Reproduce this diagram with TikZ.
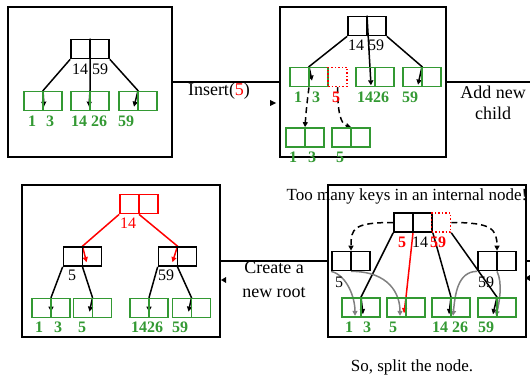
\documentclass[tikz,border=0pt]{standalone}
\usepackage{fontspec}
\setmainfont{Liberation Serif}
\usetikzlibrary{arrows.meta,calc,backgrounds}
\definecolor{kg}{RGB}{51,153,51}
\definecolor{gy}{RGB}{128,128,128}
\newcommand\twobox[4]{\node[cellpair,#4] (#1) at (#2,#3) {};\draw[cellline,#4] (#1.north) -- (#1.south);}
\begin{document}
\begin{tikzpicture}[x=1pt,y=-1pt,
  panel/.style={draw, line width=1.7pt, inner sep=0},
  cellpair/.style={draw, line width=1.7pt, minimum width=38pt, minimum height=19pt, inner sep=0},
  cellline/.style={line width=1.7pt},
  gbox/.style={draw=kg},
  bbox/.style={draw=black},
  rbox/.style={draw=red},
  dotcell/.style={draw=red, dotted, line width=1.5pt, minimum width=19pt, minimum height=19pt, inner sep=0},
  ptr/.style={line width=1.5pt, -{Triangle[length=5pt,width=5pt]}},
  rptr/.style={ptr, draw=red},
  gptr/.style={line width=1.5pt, draw=gy, -{Triangle[length=5pt,width=5pt]}},
  dptr/.style={ptr, dash pattern=on 6pt off 4pt},
  conn/.style={line width=1.5pt},
  key/.style={inner sep=0, font=\fontsize{16}{16}\selectfont},
  gkey/.style={inner sep=0, text=kg, font=\fontsize{16}{16}\selectfont\bfseries},
  rkey/.style={inner sep=0, text=red, font=\fontsize{16}{16}\selectfont\bfseries},
  lab/.style={inner sep=0, align=center, font=\fontsize{18}{21}\selectfont},
  note/.style={inner sep=0, font=\fontsize{17}{20}\selectfont},
]
\useasboundingbox (0,0) rectangle (530,377);

% ---------- panels ----------
\node[panel, minimum width=164pt, minimum height=150pt] (p1) at (90,82) {};
\node[panel, minimum width=166pt, minimum height=150pt] (p2) at (363,82) {};
\node[panel, minimum width=198pt, minimum height=152pt] (p3) at (121,261) {};
\node[panel, minimum width=198pt, minimum height=152pt] (p4) at (427,261) {};

% ---------- panel 1 ----------
\twobox{tlr}{90}{49}{bbox}
\twobox{tl1}{43}{101}{gbox}
\twobox{tl2}{90}{101}{gbox}
\twobox{tl3}{138}{101}{gbox}
\node[key] (k11) at (90,69) {14 59};
\node[gkey] (k12) at (32,121) {1};
\node[gkey] (k13) at (50,121) {3};
\node[gkey] (k14) at (89,121) {14 26};
\node[gkey] (k15) at (126,121) {59};

% ---------- panel 2 ----------
\twobox{trr}{367}{26}{bbox}
\twobox{trA}{309}{77}{gbox}
\node[dotcell] (trX) at (337.5,77) {};
\twobox{trB}{375}{77}{gbox}
\twobox{trC}{422}{77}{gbox}
\twobox{trD}{305}{137.5}{gbox}
\twobox{trE}{351}{137.5}{gbox}
\node[key] (k21) at (366,45) {14 59};
\node[gkey] (k22) at (298,97) {1};
\node[gkey] (k23) at (316,97) {3};
\node[rkey] (k24) at (336,97) {5};
\node[gkey] (k25) at (373,97) {1426};
\node[gkey] (k26) at (410,97) {59};
\node[gkey] (k27) at (293,157) {1};
\node[gkey] (k28) at (312,157) {3};
\node[gkey] (k29) at (340,157) {5};

% ---------- panel 4 (bottom right) ----------
\twobox{brr}{413}{222.5}{bbox}
\node[dotcell] (brX) at (441,222.5) {};
\twobox{brL}{351}{261}{bbox}
\twobox{brR}{497}{261}{bbox}
\twobox{br1}{361}{307.5}{gbox}
\twobox{br2}{406}{307.5}{gbox}
\twobox{br3}{451}{307.5}{gbox}
\twobox{br4}{497}{307.5}{gbox}
\node[note] (t1) at (407,196) {Too many keys in an internal node!};
\node[rkey] (k41) at (402,242) {5};
\node[key] (k42) at (420,242) {14};
\node[rkey] (k43) at (438,242) {59};
\node[key] (k44) at (339,282) {5};
\node[key] (k45) at (486,282) {59};
\node[gkey] (k46) at (349,327) {1};
\node[gkey] (k47) at (367,327) {3};
\node[gkey] (k48) at (393,327) {5};
\node[gkey] (k49) at (450,327) {14 26};
\node[gkey] (k40) at (486,327) {59};
\node[note] (t2) at (412,367) {So, split the node.};

% ---------- panel 3 (bottom left) ----------
\twobox{blr}{139}{204}{rbox}
\twobox{blL}{82.5}{256.5}{bbox}
\twobox{blR}{177.5}{256.5}{bbox}
\twobox{bl1}{51}{308}{gbox}
\twobox{bl2}{92.5}{308}{gbox}
\twobox{bl3}{149}{308}{gbox}
\twobox{bl4}{191.5}{308}{gbox}
\node[key, text=red] (k31) at (128,223) {14};
\node[key] (k32) at (72,275) {5};
\node[key] (k33) at (166,275) {59};
\node[gkey] (k34) at (39,327) {1};
\node[gkey] (k35) at (58,327) {3};
\node[gkey] (k36) at (82,327) {5};
\node[gkey] (k37) at (147,327) {1426};
\node[gkey] (k38) at (180,327) {59};

% ---------- pointers (behind boxes) ----------
\begin{scope}[on background layer]
  % panel 1
  \draw[ptr] (tlr.south west) -- (tl1.north) -- +(1,16);
  \draw[ptr] (tlr.north) -- (tl2.north) -- +(-1,16);
  \draw[ptr] (tlr.south east) -- (tl3.north) -- +(-4,16);
  % panel 2
  \draw[ptr] (trr.south west) -- (trA.north) -- +(3,14);
  \draw[ptr] (trr.north) -- ([xshift=-4pt,yshift=2pt]trB.south);
  \draw[ptr] (trr.south east) -- (trC.north) -- +(-4,18);
  \draw[dptr] (trA.south) .. controls +(-2,15) and +(1,-15) .. (trD.north);
  \draw[dptr] (trX.south) .. controls +(0,25) and +(-10,-3) .. (trE.north);
  % panel 4
  \draw[dptr] (brr.west) .. controls +(-40,0) and +(0,-22) .. (brL.north);
  \draw[dptr] (brX.east) .. controls +(40,0) and +(0,-22) .. (brR.north);
  \draw[ptr] (brr.south west) -- (br1.north) -- +(2,17);
  \draw[rptr] (brr.south) -- (br2.north) -- +(-2,16);
  \draw[ptr] (brr.south east) -- (br3.north) -- +(-2,17);
  \draw[ptr] (brX.south east) -- (br4.north) -- +(-4,17);
  \draw[gptr] (brL.south west) .. controls +(16,4) and +(0,-18) .. ([xshift=-6pt,yshift=2pt]br1.south);
  \draw[gptr] (brL.south) .. controls +(38,0) and +(0,-22) .. ([xshift=-6pt,yshift=2pt]br2.south);
  \draw[gptr] (brR.south west) .. controls +(-20,0) and +(2,-20) .. ([xshift=2pt,yshift=2pt]br3.south);
  \draw[gptr] (brR.south) .. controls +(6,12) and +(3,-12) .. ([xshift=-1pt,yshift=2pt]br4.south);
  % panel 3
  \draw[rptr] (blr.south west) -- (blL.north) -- +(4,16);
  \draw[rptr] (blr.south) -- (blR.north) -- +(-5,16);
  \draw[ptr] (blL.south west) -- (bl1.north) -- +(0,14);
  \draw[ptr] (blL.south) -- (bl2.north) -- +(-3,14);
  \draw[ptr] (blR.south west) -- (bl3.north) -- +(0,14);
  \draw[ptr] (blR.south) -- (bl4.north) -- +(-3,14);
\end{scope}

% ---------- connectors between panels ----------
\coordinate (rA) at (530,82);
\coordinate (rB) at (530,261);
\draw[conn] (p1) -- (p2);
\draw[conn] (p2.east) -- (rA);
\draw[conn] (p4) -- (p3);
\draw[conn] (p4.east) -- (rB);
\node[lab] (l1) at (219,91) {Insert(\textcolor{red}{5})};
\node[lab] (l2) at (493,103) {Add new\\child};
\node[lab, font=\fontsize{18}{24}\selectfont] (l3) at (274,280) {Create a\\new root};

% small stray arrowheads
\fill (270,100) -- (276,103) -- (270,106) -- cycle;
\fill (221,280) -- (226,277) -- (226,283) -- cycle;
\fill (525,278) -- (530,275) -- (530,281) -- cycle;
\end{tikzpicture}
\end{document}
